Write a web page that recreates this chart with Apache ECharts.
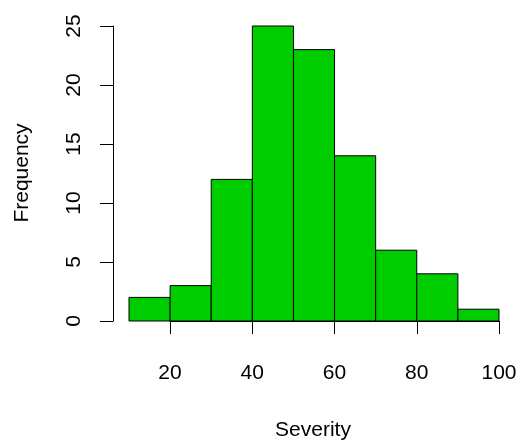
<!DOCTYPE html>
<html><head><meta charset="utf-8">
<script src="https://cdn.jsdelivr.net/npm/echarts@6/dist/echarts.min.js"></script>
<style>html,body{margin:0;padding:0;background:#fff}#c{width:520px;height:444px}</style>
</head><body><div id="c"></div>
<script>
const binStart = [10, 20, 30, 40, 50, 60, 70, 80, 90];
const binEnd   = [20, 30, 40, 50, 60, 70, 80, 90, 100];
const counts   = [2, 3, 12, 25, 23, 14, 6, 4, 1];
const xTicks = [20, 40, 60, 80, 100];
const yTicks = [0, 5, 10, 15, 20, 25];
const xTitle = 'Severity';
const yTitle = 'Frequency';

const FONT = '"Liberation Sans", Arial, Helvetica, sans-serif';
const FS = 21;
const data = binStart.map((s, i) => [s, binEnd[i], counts[i]]);
const chart = echarts.init(document.getElementById('c'), null, {renderer: 'canvas'});
chart.setOption({
  animation: false,
  backgroundColor: '#fff',
  grid: [
    {left: 129, right: 21, top: 26, bottom: 123},
    {left: 170, right: 21, top: 26, bottom: 123}
  ],
  xAxis: [
    {gridIndex: 0, type: 'value', min: 10, max: 100, show: false},
    {gridIndex: 1, type: 'value', min: 20, max: 100, interval: 20, position: 'bottom', offset: 12,
      axisLine: {show: true, lineStyle: {color: '#000', width: 1}},
      axisTick: {show: true, length: 13, lineStyle: {color: '#000', width: 1}},
      axisLabel: {fontSize: FS, color: '#000', fontFamily: FONT, margin: 30,
        customValues: xTicks},
      splitLine: {show: false}}
  ],
  yAxis: [
    {gridIndex: 0, type: 'value', min: 0, max: 25, interval: 5, position: 'left', offset: 16,
      axisLine: {show: true, lineStyle: {color: '#000', width: 1}},
      axisTick: {show: true, length: 13, lineStyle: {color: '#000', width: 1}},
      axisLabel: {fontSize: FS, color: '#000', fontFamily: FONT, margin: 28, rotate: 90,
        customValues: yTicks},
      splitLine: {show: false}},
    {gridIndex: 1, type: 'value', min: 0, max: 25, show: false}
  ],
  graphic: [
    {type: 'text', x: 313, y: 430, style: {text: xTitle, fontSize: FS, fontFamily: FONT, fill: '#000', textAlign: 'center', textVerticalAlign: 'middle'}},
    {type: 'text', x: 22, y: 173, rotation: Math.PI / 2, style: {text: yTitle, fontSize: FS, fontFamily: FONT, fill: '#000', textAlign: 'center', textVerticalAlign: 'middle'}}
  ],
  series: [{
    type: 'custom',
    xAxisIndex: 0, yAxisIndex: 0,
    data: data,
    encode: {x: [0, 1], y: 2},
    renderItem: function (params, api) {
      const p0 = api.coord([api.value(0), api.value(2)]);
      const p1 = api.coord([api.value(1), 0]);
      return {type: 'rect',
        shape: {x: p0[0], y: p0[1], width: p1[0] - p0[0], height: p1[1] - p0[1]},
        style: {fill: '#00CD00', stroke: '#000', lineWidth: 1}};
    }
  }]
});
</script></body></html>
